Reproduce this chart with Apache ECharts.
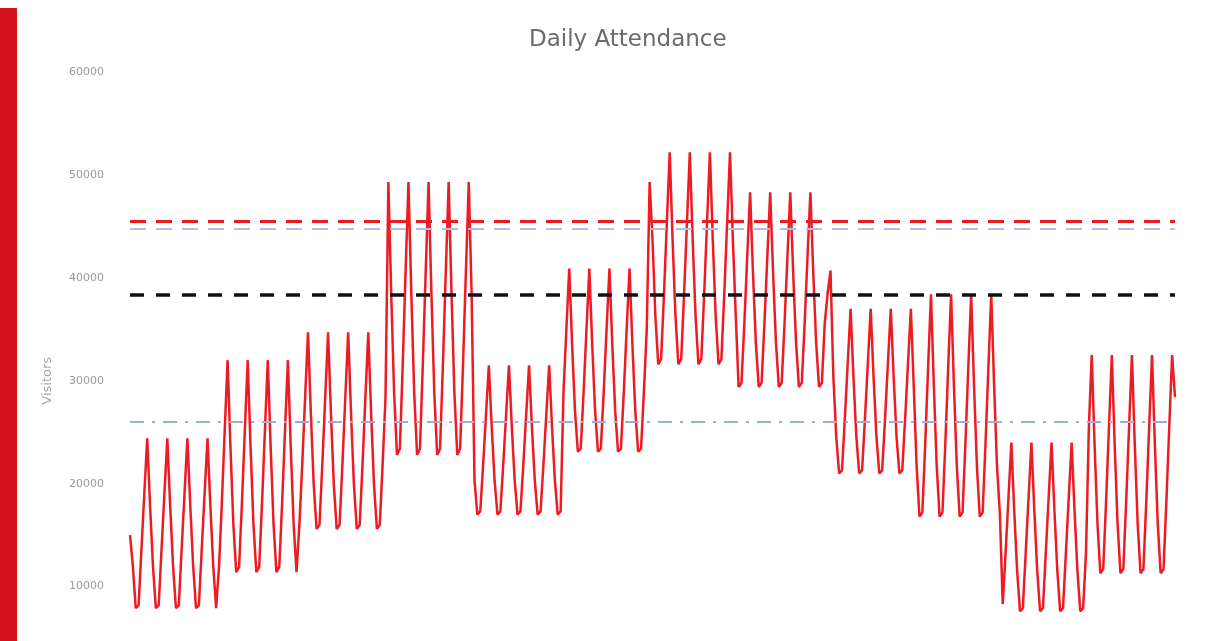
<!DOCTYPE html>
<html>
<head>
<meta charset="utf-8">
<script src="https://cdn.jsdelivr.net/npm/echarts@6/dist/echarts.min.js"></script>
<style>
html,body{margin:0;padding:0;background:#fff;overflow:hidden;width:1228px;height:641px;}
#chart{width:1228px;height:695px;}
</style>
</head>
<body>
<div id="chart"></div>
<script>
// Daily visitors per month (2017)
const jan = [15000,12000,7900,8200,13700,19100,24400, 17800,12000,7900,8200,13700,19100,24400, 17800,12000,7900,8200,13700,19100,24400, 17800,12000,7900,8200,13700,19100,24400, 17800,12000,7900];
const feb = [11900,18200,25200,32000, 23500,16100,11400,11900,18200,25200,32000, 23500,16100,11400,11900,18200,25200,32000, 23500,16100,11400,11900,18200,25200,32000, 23500,16100,11400];
const mar = [16000,21900,28400,34700, 26800,19900,15600,16000,21900,28400,34700, 26800,19900,15600,16000,21900,28400,34700, 26800,19900,15600,16000,21900,28400,34700, 26800,19900,15600,16000,21900,28400];
const apr = [49300, 38400,28800,22800,23400,31600,40600,49300, 38400,28800,22800,23400,31600,40600,49300, 38400,28800,22800,23400,31600,40600,49300, 38400,28800,22800,23400,31600,40600,49300, 38400];
const may = [20300,17000,17300,21800,26700,31500, 25500,20300,17000,17300,21800,26700,31500, 25500,20300,17000,17300,21800,26700,31500, 25500,20300,17000,17300,21800,26700,31500, 25500,20300,17000,17300];
const jun = [28900,35000,40900, 33500,27100,23100,23400,28900,35000,40900, 33500,27100,23100,23400,28900,35000,40900, 33500,27100,23100,23400,28900,35000,40900, 33500,27100,23100,23400,28900,35000];
const jul = [49300, 43700,36300,31600,32100,38400,45400,52200, 43700,36300,31600,32100,38400,45400,52200, 43700,36300,31600,32100,38400,45400,52200, 43700,36300,31600,32100,38400,45400,52200, 43700,36300];
const aug = [29400,29800,35600,42100,48300, 40500,33700,29400,29800,35600,42100,48300, 40500,33700,29400,29800,35600,42100,48300, 40500,33700,29400,29800,35600,42100,48300, 40500,33700,29400,29800,35600];
const sep = [38500,40700, 30400,24600,21000,21300,26300,31700,37000, 30400,24600,21000,21300,26300,31700,37000, 30400,24600,21000,21300,26300,31700,37000, 30400,24600,21000,21300,26300,31700,37000];
const oct = [29500,21700,16800,17200,23900,31300,38400, 29500,21700,16800,17200,23900,31300,38400, 29500,21700,16800,17200,23900,31300,38400, 29500,21700,16800,17200,23900,31300,38400, 29500,21700,17100];
const nov = [8300,13300,18700,24000, 17400,11600,7600,7900,13300,18700,24000, 17400,11600,7600,7900,13300,18700,24000, 17400,11600,7600,7900,13300,18700,24000, 17400,11600,7600,7900,13300];
const dec = [25500,32500, 23700,16100,11300,11700,18300,25500,32500, 23700,16100,11300,11700,18300,25500,32500, 23700,16100,11300,11700,18300,25500,32500, 23700,16100,11300,11700,18300,25500,32500, 28400];

// Reference lines
const refRed = 45500;
const refLightBlue = 44800;
const refBlack = 38400;
const refBlueDashDot = 26050;

// Y tick values
const yTicks = [0, 10000, 20000, 30000, 40000, 50000, 60000];

const visitors = [].concat(jan, feb, mar, apr, may, jun, jul, aug, sep, oct, nov, dec);
const days = [];
for (let i = 0; i < visitors.length; i++) {
  const d = new Date(Date.UTC(2017, 0, 1 + i));
  days.push(d.toISOString().slice(0, 10));
}

const chart = echarts.init(document.getElementById('chart'), null, {renderer: 'canvas'});
chart.setOption({
  backgroundColor: '#ffffff',
  animation: false,
  title: {
    text: 'Daily Attendance',
    left: 524,
    top: 24,
    textStyle: {color: '#6b6b6b', fontSize: 23, fontWeight: 'normal', fontFamily: 'DejaVu Sans'}
  },
  graphic: [{
    type: 'rect',
    left: 0, top: 8,
    shape: {width: 17, height: 690},
    style: {fill: '#d3121b'}
  }],
  grid: {left: 130, right: 53, top: 72, bottom: 0},
  xAxis: {
    type: 'category',
    data: days,
    boundaryGap: false,
    show: false
  },
  yAxis: {
    type: 'value',
    min: yTicks[0],
    max: yTicks[yTicks.length - 1],
    interval: 10000,
    name: 'Visitors',
    nameLocation: 'middle',
    nameGap: 76,
    nameTextStyle: {color: '#a8a8a8', fontSize: 13, fontFamily: 'DejaVu Sans'},
    axisLine: {show: false},
    axisTick: {show: false},
    splitLine: {show: false},
    axisLabel: {color: '#9a9a9a', fontSize: 11, margin: 26, fontFamily: 'DejaVu Sans',
      formatter: function (v) { return String(v); }}
  },
  series: [{
    type: 'line',
    data: visitors,
    showSymbol: false,
    symbol: 'none',
    lineStyle: {color: '#ec1b24', width: 2.5},
    z: 3,
    markLine: {
      silent: true,
      symbol: 'none',
      label: {show: false},
      data: [
        {yAxis: refBlueDashDot, lineStyle: {color: '#9aaede', width: 2, type: [14, 8, 3, 8]}},
        {yAxis: refLightBlue, lineStyle: {color: '#a9c0e4', width: 2, type: [16, 10]}},
        {yAxis: refRed, lineStyle: {color: '#ec1b24', width: 3, type: [16, 10]}},
        {yAxis: refBlack, lineStyle: {color: '#111111', width: 3.5, type: [14, 12]}}
      ]
    }
  }]
});
</script>
</body>
</html>
